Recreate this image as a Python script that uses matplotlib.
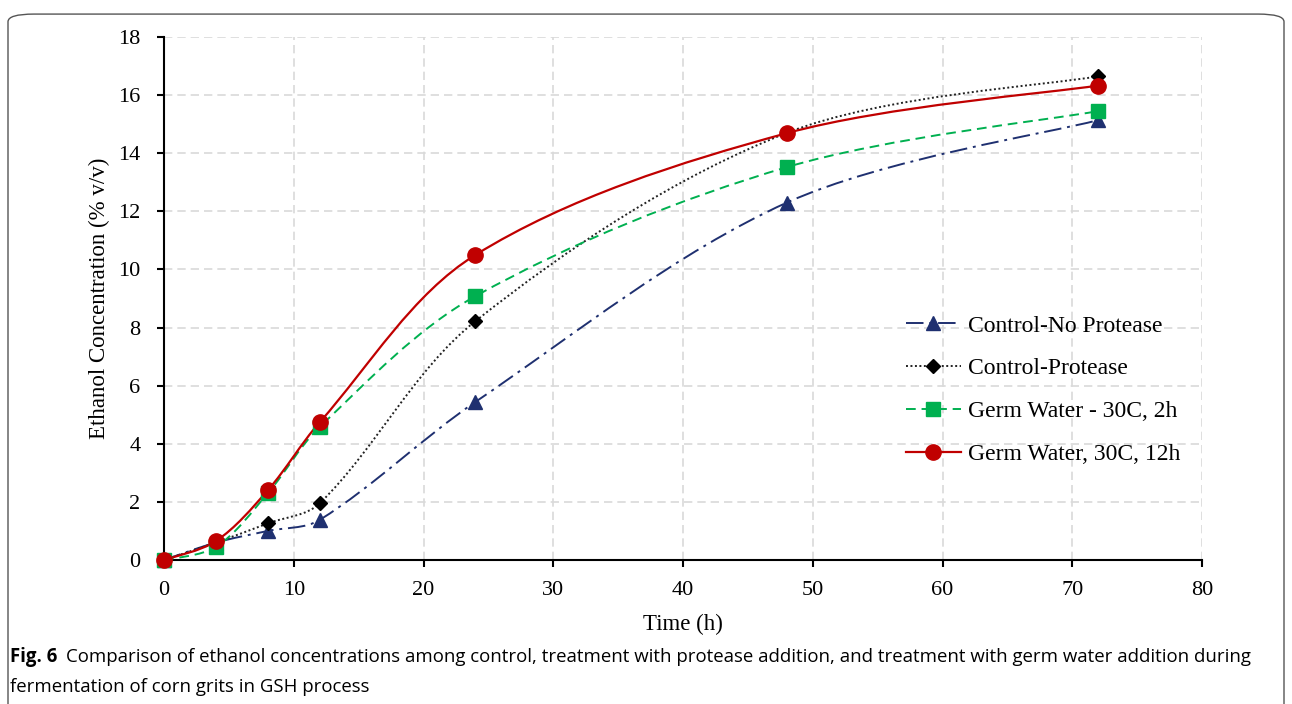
import numpy as np
import matplotlib
matplotlib.use("Agg")
import matplotlib.pyplot as plt
from matplotlib.path import Path
from matplotlib.patches import PathPatch, FancyBboxPatch
from matplotlib.lines import Line2D

plt.rcParams['font.family'] = ['Liberation Serif', 'DejaVu Serif']

# data
time_h = [0, 4, 8, 12, 24, 48, 72]
ctrl_no_protease = [0.0, 0.6, 1.0, 1.38, 5.44, 12.3, 15.14]
ctrl_protease = [0.0, 0.6, 1.26, 1.95, 8.22, 14.7, 16.65]
germ_2h = [0.0, 0.45, 2.3, 4.58, 9.08, 13.52, 15.45]
germ_12h = [0.0, 0.65, 2.4, 4.74, 10.5, 14.69, 16.33]

labels = ["Control-No Protease", "Control-Protease",
          "Germ Water - 30C, 2h", "Germ Water, 30C, 12h"]

PX_X = 1038 / 80.0   # pixels per hour
PX_Y = 523 / 18.0    # pixels per % v/v


def smooth_path(x, y, tension=1 / 3.0):
    """Smoothed line (like a spreadsheet 'smoothed line') as cubic Bezier segments."""
    pts = np.column_stack([x, y]).astype(float)
    scale = np.array([PX_X, PX_Y])
    n = len(pts)

    def dist(a, b):
        return np.hypot(*((a - b) * scale))

    out_c, in_c = [], []
    for i in range(n):
        if i == 0:
            t = pts[1] - pts[0]
            out_c.append(pts[0] + t / 6.0)
            in_c.append(pts[0])
            continue
        if i == n - 1:
            t = pts[i] - pts[i - 1]
            in_c.append(pts[i] - t / 6.0)
            out_c.append(pts[i])
            continue
        t = pts[i + 1] - pts[i - 1]
        dp = dist(pts[i], pts[i - 1])
        dn = dist(pts[i + 1], pts[i])
        in_c.append(pts[i] - t * tension * dp / (dp + dn))
        out_c.append(pts[i] + t * tension * dn / (dp + dn))

    verts = [pts[0]]
    codes = [Path.MOVETO]
    for i in range(n - 1):
        verts += [out_c[i], in_c[i + 1], pts[i + 1]]
        codes += [Path.CURVE4] * 3
    return Path(verts, codes)


fig = plt.figure(figsize=(12.92, 7.04), dpi=100)
ax = fig.add_axes([164 / 1292, 1 - 560 / 704, (1202 - 164) / 1292, (560 - 37) / 704])

styles = [
    dict(color="#1f3070", ls=(0, (9, 3, 1.5, 3)), marker="^", ms=10, lw=1.4),
    dict(color="#222222", ls=(0, (1, 1.3)), marker="D", ms=7.5, lw=1.4),
    dict(color="#00b050", ls=(0, (5, 3)), marker="s", ms=10, lw=1.4),
    dict(color="#c00000", ls="-", marker="o", ms=11, lw=1.6),
]
mcolors = ["#1f3070", "#000000", "#00b050", "#c00000"]
series = [ctrl_no_protease, ctrl_protease, germ_2h, germ_12h]

handles = []
for ys, st, mc, lab in zip(series, styles, mcolors, labels):
    patch = PathPatch(smooth_path(time_h, ys), facecolor="none",
                      edgecolor=st["color"], linestyle=st["ls"], lw=st["lw"],
                      zorder=3)
    ax.add_patch(patch)
    ax.plot(time_h, ys, ls="none", marker=st["marker"], ms=st["ms"],
            color=mc, zorder=4, clip_on=False)
    handles.append(Line2D([], [], color=st["color"], ls=st["ls"], lw=st["lw"],
                          marker=st["marker"], ms=st["ms"], mfc=mc, mec=mc,
                          label=lab))

ax.set_xlim(0, 80)
ax.set_ylim(0, 18)
ax.set_xticks(range(0, 81, 10))
ax.set_yticks(range(0, 19, 2))
ax.grid(True, color="#d9d9d9", ls=(0, (5, 3)), lw=1.2)
ax.set_axisbelow(True)
for s in ["top", "right"]:
    ax.spines[s].set_visible(False)
for s in ["left", "bottom"]:
    ax.spines[s].set_linewidth(1.5)
ax.tick_params(labelsize=16, length=5, width=1.5, direction="out")
ax.tick_params(axis="x", pad=10)
ax.tick_params(axis="y", pad=12)
ax.set_xlabel("Time (h)", fontsize=16.5, labelpad=10)
ax.set_ylabel("Ethanol Concentration (% v/v)", fontsize=16.5, labelpad=6)

ax.legend(handles=handles, loc="center left", bbox_to_anchor=(0.706, 0.325),
          frameon=False, fontsize=17, labelspacing=0.9, handlelength=2.3,
          handletextpad=0.3, borderaxespad=0)

# rounded frame around figure
fig.patches.append(FancyBboxPatch((8 / 1292, -0.02), 1276 / 1292, 1.0,
                                  boxstyle="round,pad=0,rounding_size=0.02",
                                  transform=fig.transFigure, facecolor="none",
                                  edgecolor="#555555", lw=1.0, mutation_aspect=704 / 1292))

cap = dict(family=["Open Sans", "DejaVu Sans"], fontsize=13.4)
fig.text(10 / 1292, 1 - 657 / 704, "Fig. 6", fontweight="bold", va="center", **cap)
fig.text(66 / 1292, 1 - 657 / 704,
         "Comparison of ethanol concentrations among control, treatment with protease addition, "
         "and treatment with germ water addition during", va="center", **cap)
fig.text(10 / 1292, 1 - 687 / 704, "fermentation of corn grits in GSH process",
         va="center", **cap)

fig.savefig("out.png", dpi=100)
